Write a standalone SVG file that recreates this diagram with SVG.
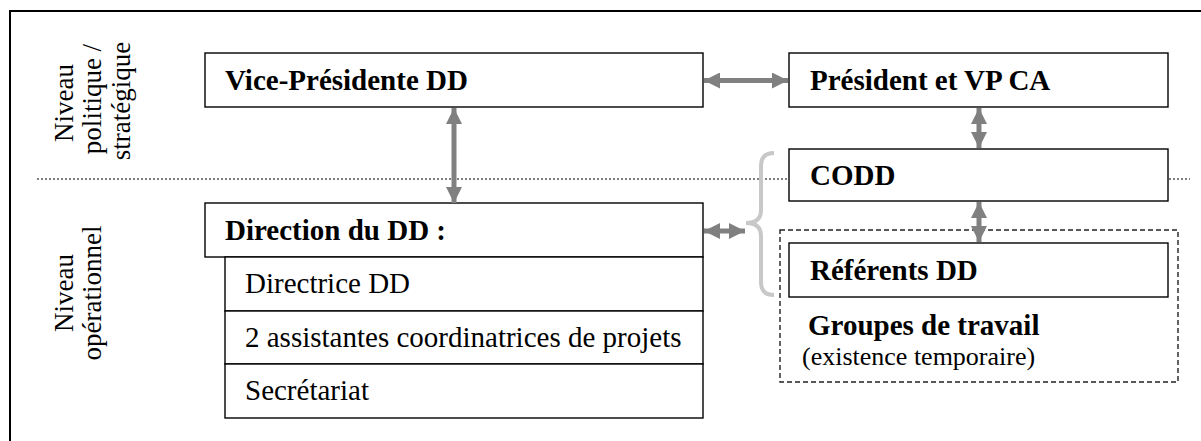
<svg xmlns="http://www.w3.org/2000/svg" width="1201" height="441" viewBox="0 0 1201 441">
<style>
.box{fill:#fff;stroke:#000;stroke-width:1.4}
.b{font-family:"Liberation Serif","Times New Roman",serif;font-weight:bold;font-size:29px;fill:#000}
.r{font-family:"Liberation Serif","Times New Roman",serif;font-size:29px;fill:#000}
.side{font-family:"Liberation Serif","Times New Roman",serif;font-size:27px;fill:#000;text-anchor:middle}
.arr{stroke:#808080;stroke-width:5;fill:none;marker-start:url(#ah);marker-end:url(#ah)}
</style>
<defs>
<marker id="ah" markerUnits="userSpaceOnUse" markerWidth="16" markerHeight="16" viewBox="0 0 16 16" refX="16" refY="8" orient="auto-start-reverse">
<path d="M0,0 L16,8 L0,16 z" fill="#808080"/>
</marker>
</defs>
<rect x="0" y="0" width="1201" height="441" fill="#fff"/>
<rect id="frame" x="10" y="11" width="1200" height="440" fill="none" stroke="#000" stroke-width="2"/>
<line id="separator" x1="37" y1="179" x2="1190" y2="179" stroke="#808080" stroke-width="2.2" stroke-dasharray="2 2"/>
<g id="label-strategique">
<text class="side" transform="translate(73,103) rotate(-90)">Niveau</text>
<text class="side" transform="translate(101,99) rotate(-90)">politique /</text>
<text class="side" transform="translate(130,101) rotate(-90)">stratégique</text>
</g>
<g id="label-operationnel">
<text class="side" transform="translate(73,293) rotate(-90)">Niveau</text>
<text class="side" transform="translate(101,293) rotate(-90)">opérationnel</text>
</g>
<g id="groupes-travail">
<rect x="780" y="230" width="398" height="152" fill="none" stroke="#222" stroke-width="1.4" stroke-dasharray="5 3"/>
<text class="b" x="808" y="335">Groupes de travail</text>
<text class="r" x="802" y="365" style="font-size:26px">(existence temporaire)</text>
</g>
<g id="vp-dd">
<rect class="box" x="205" y="53" width="498" height="54"/>
<text class="b" x="225" y="90">Vice-Présidente DD</text>
</g>
<g id="president">
<rect class="box" x="789" y="53" width="379" height="54"/>
<text class="b" x="810" y="90">Président et VP CA</text>
</g>
<g id="codd">
<rect class="box" x="789" y="149" width="379" height="52"/>
<text class="b" x="810" y="185">CODD</text>
</g>
<g id="referents">
<rect class="box" x="789" y="243" width="379" height="54"/>
<text class="b" x="810" y="280">Référents DD</text>
</g>
<g id="direction">
<rect class="box" x="205" y="203" width="498" height="54"/>
<text class="b" x="225" y="240">Direction du DD :</text>
<rect class="box" x="225" y="257" width="478" height="54"/>
<text class="r" x="245" y="293">Directrice DD</text>
<rect class="box" x="225" y="311" width="478" height="53"/>
<text class="r" x="245" y="347">2 assistantes coordinatrices de projets</text>
<rect class="box" x="225" y="364" width="478" height="54"/>
<text class="r" x="245" y="400">Secrétariat</text>
</g>
<g id="connectors">
<path d="M774,153 Q761,153 761,166 L761,210 Q761,223 746,223 Q761,223 761,236 L761,282 Q761,295 774,295" fill="none" stroke="#c8c8c8" stroke-width="4"/>
<line class="arr" x1="704" y1="80.5" x2="788" y2="80.5"/>
<line class="arr" x1="454" y1="108" x2="454" y2="203"/>
<line class="arr" x1="979" y1="108" x2="979" y2="148"/>
<line class="arr" x1="979" y1="202" x2="979" y2="242"/>
<line class="arr" x1="704" y1="231" x2="745" y2="231"/>
</g>
</svg>
